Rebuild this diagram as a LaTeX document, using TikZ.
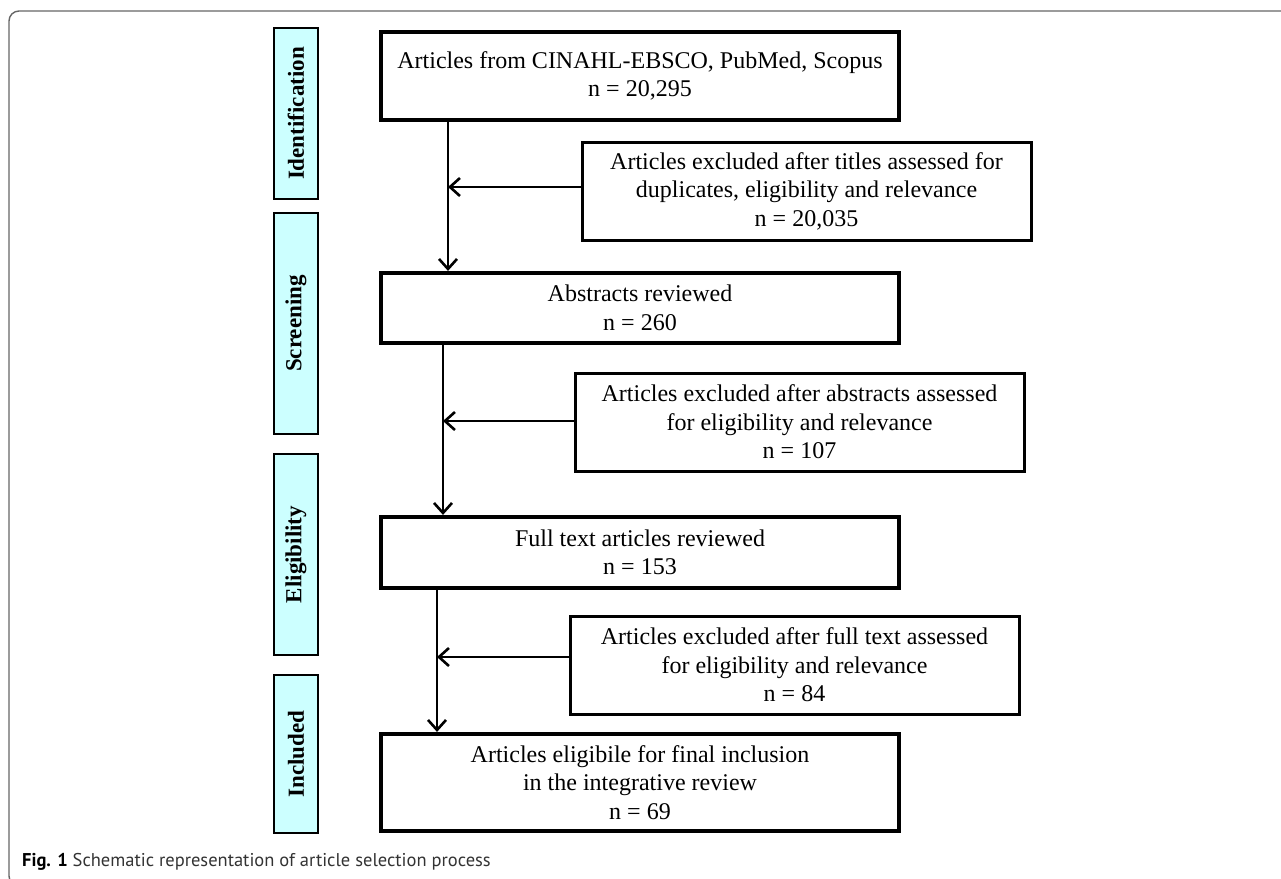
\documentclass[tikz,border=0pt]{standalone}
\usepackage{fontspec}
\setmainfont{Liberation Serif}
\newfontfamily\capfont{PT Sans}
\usetikzlibrary{arrows.meta}

\definecolor{stagefill}{HTML}{CCFFFF}

\tikzset{
  mainbox/.style={draw, line width=4.2pt, minimum width=518pt, align=center, inner sep=0pt},
  sidebox/.style={draw, line width=3pt, minimum width=449pt, minimum height=98pt, align=center, inner sep=0pt},
  stagebox/.style={draw, line width=2.6pt, fill=stagefill, minimum height=44pt, rotate=90, inner sep=0pt, font=\fontsize{23}{27}\selectfont\bfseries},
  flow/.style={line width=2.6pt, -{Straight Barb[length=10pt, width=18pt, line width=2.6pt]}},
}

\begin{document}
\begin{tikzpicture}[x=1pt, y=-1pt, font=\fontsize{24}{28.5}\selectfont]

\clip (0,0) rectangle (1281,878);
\draw[gray!80!black, line width=1.4pt, rounded corners=10pt] (1300,11) -- (9,11) -- (9,886) -- (1300,886);

\node[stagebox, minimum width=171pt] (ident) at (296,113.5) {Identification};
\node[stagebox, minimum width=221pt] (screen) at (296,323.5) {Screening};
\node[stagebox, minimum width=201pt] (elig) at (296,554.5) {Eligibility};
\node[stagebox, minimum width=158pt] (included) at (296,754) {Included};

\node[mainbox, minimum height=88pt] (src) at (640,76) {Articles from CINAHL-EBSCO, PubMed, Scopus\\n = 20,295};
\node[mainbox, minimum height=70pt] (abs) at (640,308) {Abstracts reviewed\\n = 260};
\node[mainbox, minimum height=71pt] (full) at (640,552.5) {Full text articles reviewed\\n = 153};
\node[mainbox, minimum height=97pt] (incl) at (640,782.5) {Articles eligibile for final inclusion\\in the integrative review\\n = 69};

\node[sidebox] (excl1) at (806.5,191) {Articles excluded after titles assessed for\\duplicates, eligibility and relevance\\n = 20,035};
\node[sidebox] (excl2) at (799.5,422) {Articles excluded after abstracts assessed\\for eligibility and relevance\\n = 107};
\node[sidebox] (excl3) at (794.5,665) {Articles excluded after full text assessed\\for eligibility and relevance\\n = 84};

\coordinate (j1) at (448,187);
\coordinate (j2) at (443,421);
\coordinate (j3) at (437,657);

\draw[flow] (src.south -| j1) -- (abs.north -| j1);
\draw[flow] (abs.south -| j2) -- (full.north -| j2);
\draw[flow] (full.south -| j3) -- (incl.north -| j3);
\draw[flow] (excl1.west |- j1) -- (j1);
\draw[flow] (excl2.west |- j2) -- (j2);
\draw[flow] (excl3.west |- j3) -- (j3);

\node[anchor=base west, inner sep=0pt, font=\capfont\fontsize{18.5}{20}\selectfont] (caption) at (22,866)
  {\textbf{Fig. 1} \textcolor{black!80}{Schematic representation of article selection process}};

\end{tikzpicture}
\end{document}
